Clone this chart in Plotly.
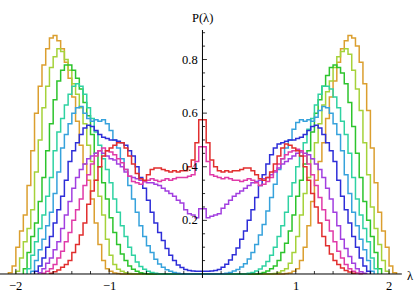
import plotly.graph_objects as go

# ---------------- data (histogram bin heights, bin width 0.04) ----------------
# *_L : bins from -2.12 up to 0 (left to right); *_R : bins from 0 up to 2.12
ORANGE_L = [0, 0.005, 0.03, 0.10, 0.16, 0.22, 0.33, 0.46, 0.60, 0.70, 0.78, 0.84, 0.88, 0.89,
            0.87, 0.84, 0.79, 0.73, 0.66, 0.57, 0.48, 0.41, 0.35, 0.28, 0.19, 0.11, 0.05, 0.02,
            0.01, 0.004, 0.002] + [0.0] * 22
ORANGE_R = [0.0] * 22 + [0.002, 0.004, 0.01, 0.02, 0.05, 0.10, 0.18, 0.27, 0.35, 0.42, 0.49,
                         0.58, 0.66, 0.72, 0.79, 0.84, 0.87, 0.89, 0.88, 0.85, 0.79, 0.71, 0.61,
                         0.47, 0.34, 0.23, 0.16, 0.10, 0.03, 0.005, 0]

YGREEN_L = [0, 0, 0] + [0.01, 0.06, 0.12, 0.17, 0.24, 0.38, 0.50, 0.62, 0.70, 0.77, 0.81, 0.84,
                        0.83, 0.80, 0.76, 0.71, 0.67, 0.62, 0.56, 0.48, 0.42, 0.35, 0.29, 0.22,
                        0.13, 0.07, 0.035, 0.018, 0.01, 0.005, 0.002] + [0.0] * 19
YGREEN_R = [0.0] * 19 + [0.002, 0.006, 0.012, 0.02, 0.04, 0.08, 0.14, 0.22, 0.30, 0.36, 0.43,
                         0.49, 0.56, 0.63, 0.68, 0.72, 0.77, 0.81, 0.83, 0.84, 0.82, 0.76, 0.69,
                         0.61, 0.49, 0.37, 0.25, 0.17, 0.11, 0.05, 0.01] + [0, 0, 0]

GREEN_L = [0.0] * 5 + [0.02, 0.08, 0.14, 0.19, 0.27, 0.36, 0.46, 0.56, 0.65, 0.72, 0.76, 0.78,
                       0.78, 0.76, 0.73, 0.69, 0.64, 0.59, 0.52, 0.45, 0.40, 0.34, 0.28, 0.21,
                       0.155, 0.11, 0.075, 0.05, 0.03, 0.018, 0.01, 0.005, 0.002] + [0.0] * 15
GREEN_R = [0.0] * 15 + [0.002, 0.006, 0.011, 0.02, 0.03, 0.05, 0.08, 0.115, 0.16, 0.22, 0.29,
                        0.35, 0.41, 0.46, 0.53, 0.60, 0.65, 0.70, 0.74, 0.77, 0.78, 0.77, 0.75,
                        0.71, 0.64, 0.55, 0.45, 0.36, 0.27, 0.20, 0.14, 0.08, 0.02] + [0.0] * 5

TEAL_L = [0.0] * 6 + [0.02, 0.07, 0.12, 0.17, 0.22, 0.29, 0.36, 0.46, 0.53, 0.58, 0.63, 0.67,
                      0.70, 0.71, 0.70, 0.67, 0.62, 0.58, 0.53, 0.48, 0.43, 0.39, 0.34, 0.28,
                      0.23, 0.18, 0.14, 0.10, 0.07, 0.045, 0.028, 0.018, 0.01, 0.006,
                      0.003] + [0.0] * 12
TEAL_R = [0.0] * 12 + [0.003, 0.006, 0.011, 0.019, 0.03, 0.047, 0.07, 0.10, 0.14, 0.18, 0.23,
                       0.29, 0.34, 0.40, 0.44, 0.49, 0.54, 0.58, 0.63, 0.67, 0.70, 0.70, 0.69,
                       0.66, 0.62, 0.57, 0.52, 0.45, 0.36, 0.28, 0.22, 0.17, 0.12, 0.06,
                       0.02] + [0.0] * 6

LBLUE_L = [0.0] * 7 + [0.01, 0.05, 0.09, 0.13, 0.18, 0.23, 0.30, 0.38, 0.47, 0.52, 0.56, 0.60,
                       0.62, 0.625, 0.60, 0.58, 0.57, 0.575, 0.57, 0.575, 0.56, 0.535, 0.50,
                       0.47, 0.43, 0.39, 0.33, 0.28, 0.23, 0.18, 0.14, 0.105, 0.08, 0.055,
                       0.037, 0.025, 0.016, 0.01, 0.006, 0.003, 0.001] + [0.0] * 5
LBLUE_R = [0.0] * 5 + [0.001, 0.003, 0.006, 0.011, 0.017, 0.026, 0.038, 0.056, 0.08, 0.11,
                       0.145, 0.185, 0.235, 0.285, 0.335, 0.39, 0.43, 0.47, 0.50, 0.54, 0.565,
                       0.575, 0.57, 0.575, 0.57, 0.585, 0.61, 0.625, 0.62, 0.60, 0.56, 0.52,
                       0.46, 0.37, 0.30, 0.23, 0.18, 0.13, 0.09, 0.05, 0.01] + [0.0] * 7

BLUE_L = [0.0] * 8 + [0.01, 0.03, 0.06, 0.10, 0.14, 0.19, 0.24, 0.29, 0.35, 0.42, 0.46, 0.49,
                      0.52, 0.545, 0.555, 0.55, 0.535, 0.52, 0.51, 0.505, 0.50, 0.50, 0.495,
                      0.49, 0.48, 0.46, 0.44, 0.40, 0.36, 0.32, 0.275, 0.23, 0.19, 0.155,
                      0.125, 0.095, 0.07, 0.05, 0.034, 0.024, 0.017, 0.013, 0.011, 0.01, 0.01]
BLUE_R = [0.01, 0.01, 0.011, 0.013, 0.017, 0.025, 0.036, 0.052, 0.072, 0.097, 0.13, 0.16,
          0.20, 0.24, 0.285, 0.33, 0.37, 0.41, 0.445, 0.47, 0.485, 0.49, 0.495, 0.50, 0.50,
          0.505, 0.51, 0.52, 0.535, 0.55, 0.555, 0.545, 0.52, 0.49, 0.46, 0.42, 0.35, 0.29,
          0.24, 0.19, 0.14, 0.10, 0.06, 0.03, 0.01] + [0.0] * 8

PURPLE_L = [0.0] * 9 + [0.005, 0.02, 0.04, 0.06, 0.09, 0.12, 0.17, 0.22, 0.27, 0.32, 0.36,
                        0.39, 0.41, 0.43, 0.44, 0.45, 0.46, 0.45, 0.44, 0.43, 0.425, 0.41, 0.40,
                        0.38, 0.365, 0.36, 0.355, 0.35, 0.345, 0.34, 0.34, 0.335, 0.33, 0.32,
                        0.31, 0.30, 0.29, 0.275, 0.265, 0.24, 0.225, 0.22, 0.21, 0.243]
PURPLE_R = [0.243, 0.21, 0.215, 0.22, 0.225, 0.245, 0.26, 0.275, 0.29, 0.30, 0.31, 0.32, 0.33,
            0.34, 0.345, 0.35, 0.355, 0.36, 0.37, 0.38, 0.395, 0.41, 0.42, 0.43, 0.44, 0.45,
            0.455, 0.45, 0.445, 0.43, 0.41, 0.39, 0.36, 0.32, 0.28, 0.23, 0.18, 0.13, 0.095,
            0.065, 0.04, 0.02, 0.008, 0.003] + [0.0] * 9

MAGENTA_L = [0.0] * 10 + [0.003, 0.01, 0.02, 0.035, 0.06, 0.085, 0.12, 0.155, 0.20, 0.24,
                          0.28, 0.33, 0.37, 0.41, 0.44, 0.46, 0.47, 0.46, 0.455, 0.445, 0.43,
                          0.415, 0.39, 0.365, 0.345, 0.34, 0.335, 0.345, 0.35, 0.355, 0.35,
                          0.345, 0.35, 0.355, 0.35, 0.355, 0.36, 0.36, 0.36, 0.365, 0.37, 0.42,
                          0.475]
MAGENTA_R = [0.475, 0.42, 0.37, 0.365, 0.36, 0.355, 0.36, 0.355, 0.35, 0.35, 0.345, 0.35,
             0.355, 0.35, 0.34, 0.33, 0.335, 0.345, 0.36, 0.385, 0.41, 0.43, 0.445, 0.455,
             0.46, 0.465, 0.46, 0.44, 0.41, 0.37, 0.33, 0.285, 0.24, 0.20, 0.16, 0.12, 0.085,
             0.06, 0.035, 0.02, 0.01, 0.004, 0.001] + [0.0] * 10

RED_L = [0.0] * 12 + [0.003, 0.008, 0.015, 0.025, 0.035, 0.05, 0.08, 0.11, 0.145, 0.19, 0.26,
                      0.31, 0.35, 0.40, 0.44, 0.46, 0.47, 0.48, 0.49, 0.49, 0.47, 0.44, 0.41,
                      0.375, 0.355, 0.35, 0.37, 0.39, 0.395, 0.395, 0.39, 0.385, 0.38, 0.385,
                      0.38, 0.385, 0.385, 0.40, 0.425, 0.49, 0.575]
RED_R = [0.575, 0.49, 0.425, 0.40, 0.385, 0.38, 0.385, 0.38, 0.385, 0.385, 0.39, 0.395, 0.395,
         0.385, 0.37, 0.355, 0.35, 0.36, 0.38, 0.41, 0.44, 0.47, 0.485, 0.48, 0.47, 0.46, 0.44,
         0.40, 0.35, 0.30, 0.25, 0.19, 0.14, 0.105, 0.075, 0.05, 0.035, 0.022, 0.013, 0.007,
         0.003] + [0.0] * 12

SERIES = [
    (ORANGE_L, ORANGE_R, "#DB9F2F"),
    (YGREEN_L, YGREEN_R, "#A5D23A"),
    (GREEN_L, GREEN_R, "#2DC42D"),
    (TEAL_L, TEAL_R, "#2FD2A2"),
    (LBLUE_L, LBLUE_R, "#36A2DC"),
    (BLUE_L, BLUE_R, "#2E2ED8"),
    (PURPLE_L, PURPLE_R, "#A23FE0"),
    (MAGENTA_L, MAGENTA_R, "#E03AA8"),
    (RED_L, RED_R, "#E12E2E"),
]

X_MAJOR = [-2, -1, 1, 2]
X_LABELS = ["\u22122", "\u22121", "1", "2"]
X_MINOR = [-1.8, -1.6, -1.4, -1.2, -0.8, -0.6, -0.4, -0.2, 0.2, 0.4, 0.6, 0.8,
           1.2, 1.4, 1.6, 1.8]
Y_MAJOR = [0.2, 0.4, 0.6, 0.8]
Y_LABELS = ["0.2", "0.4", "0.6", "0.8"]
Y_MINOR = [0.05, 0.1, 0.15, 0.25, 0.3, 0.35, 0.45, 0.5, 0.55, 0.65, 0.7, 0.75, 0.85, 0.9]

BIN_W = 0.04
X_RANGE = [-2.170, 2.278]
Y_RANGE = [-0.0709, 1.022]
X_AXIS_END = 2.137
Y_AXIS_TOP = 0.91

fig = go.Figure()


def outline(left, right):
    vals = list(left) + list(right)
    edges = [-BIN_W * (len(left) - i) for i in range(len(left))] + \
            [BIN_W * i for i in range(len(right) + 1)]
    # trim empty bins at both ends
    i0 = 0
    while i0 < len(vals) and vals[i0] == 0:
        i0 += 1
    i1 = len(vals)
    while i1 > i0 and vals[i1 - 1] == 0:
        i1 -= 1
    xs = [edges[i0]]
    ys = [0.0]
    for k in range(i0, i1):
        xs.append(edges[k])
        ys.append(vals[k])
    xs.append(edges[i1])
    ys.append(vals[i1 - 1])
    xs.append(edges[i1])
    ys.append(0.0)
    return xs, ys


for left, right, col in SERIES:
    xs, ys = outline(left, right)
    fig.add_trace(go.Scatter(x=xs, y=ys, mode="lines",
                             line=dict(shape="hv", width=1.5, color=col),
                             hoverinfo="skip", showlegend=False))

# axes lines
fig.add_trace(go.Scatter(x=[X_RANGE[0], X_AXIS_END], y=[0, 0], mode="lines",
                         line=dict(color="black", width=1), hoverinfo="skip",
                         showlegend=False))
fig.add_trace(go.Scatter(x=[0, 0], y=[-0.015, Y_AXIS_TOP], mode="lines",
                         line=dict(color="black", width=1), hoverinfo="skip",
                         showlegend=False))

# ticks
tx, ty = [], []
for v in X_MAJOR:
    tx += [v, v, None]
    ty += [0, 0.019, None]
for v in X_MINOR:
    tx += [v, v, None]
    ty += [0, 0.011, None]
for v in Y_MAJOR:
    tx += [0, 0.048, None]
    ty += [v, v, None]
for v in Y_MINOR:
    tx += [0, 0.028, None]
    ty += [v, v, None]
fig.add_trace(go.Scatter(x=tx, y=ty, mode="lines", line=dict(color="black", width=0.8),
                         hoverinfo="skip", showlegend=False))

FONT = dict(family="Liberation Serif, Times New Roman, serif", size=12.5, color="black")
ann = []
for v, t in zip(X_MAJOR, X_LABELS):
    ann.append(dict(x=v, y=-0.044, text=t, showarrow=False, xanchor="center",
                    yanchor="middle", font=FONT))
for v, t in zip(Y_MAJOR, Y_LABELS):
    ann.append(dict(x=0, y=v, text=t, showarrow=False, xanchor="right", yanchor="middle",
                    xshift=-2, font=FONT))
ann.append(dict(x=0, y=0.955, text="P(\u03bb)", showarrow=False, xanchor="center",
                yanchor="middle", font=FONT))
ann.append(dict(x=2.225, y=-0.008, text="\u03bb", showarrow=False, xanchor="center",
                yanchor="middle", font=FONT))

fig.update_layout(
    width=415, height=293,
    margin=dict(l=0, r=0, t=0, b=0),
    paper_bgcolor="white", plot_bgcolor="white",
    xaxis=dict(range=X_RANGE, visible=False, showgrid=False, zeroline=False),
    yaxis=dict(range=Y_RANGE, visible=False, showgrid=False, zeroline=False),
    annotations=ann,
    showlegend=False,
)

fig.write_html("out.html", config={"displayModeBar": False},
               post_script="document.body.style.margin='0';document.body.style.padding='0';")
